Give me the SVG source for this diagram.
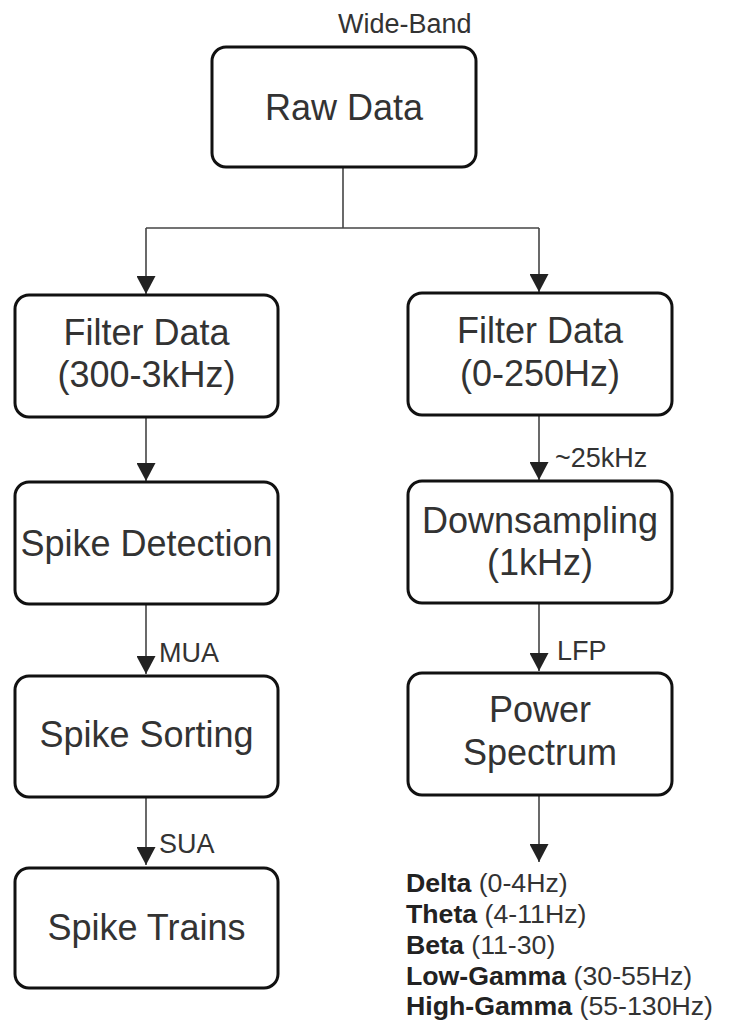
<svg xmlns="http://www.w3.org/2000/svg" width="730" height="1024" viewBox="0 0 730 1024">
  <style>
    .box { fill: #ffffff; stroke: #111111; stroke-width: 3; }
    .node { font-family: "Liberation Sans", Arial, sans-serif; font-size: 36px; fill: #333333; text-anchor: middle; }
    .lbl { font-family: "Liberation Sans", Arial, sans-serif; font-size: 27px; fill: #333333; }
    .band { font-family: "Liberation Sans", Arial, sans-serif; font-size: 26.7px; fill: #333333; }
    .band .b { font-weight: bold; fill: #222222; }
    .conn { fill: none; stroke: #444444; stroke-width: 1.6; }
  </style>
  <defs>
    <marker id="arrow" viewBox="0 0 18 19" refX="18" refY="9.5" markerWidth="18" markerHeight="19" orient="auto" markerUnits="userSpaceOnUse">
      <path d="M0,0 L18,9.5 L0,19 Z" fill="#222222"/>
    </marker>
  </defs>
  <rect width="730" height="1024" fill="#ffffff"/>

  <g id="connectors">
    <polyline class="conn" points="343,167 343,228"/>
    <polyline class="conn" points="146,228 539,228"/>
    <line class="conn" x1="146" y1="228" x2="146" y2="294" marker-end="url(#arrow)"/>
    <line class="conn" x1="539" y1="228" x2="539" y2="292" marker-end="url(#arrow)"/>
    <line class="conn" x1="146" y1="418" x2="146" y2="481" marker-end="url(#arrow)"/>
    <line class="conn" x1="539" y1="416" x2="539" y2="480" marker-end="url(#arrow)"/>
    <line class="conn" x1="146" y1="605" x2="146" y2="674" marker-end="url(#arrow)"/>
    <line class="conn" x1="539" y1="604" x2="539" y2="671" marker-end="url(#arrow)"/>
    <line class="conn" x1="146" y1="798" x2="146" y2="865" marker-end="url(#arrow)"/>
    <line class="conn" x1="539" y1="796" x2="539" y2="862" marker-end="url(#arrow)"/>
    <text class="lbl" x="338" y="33">Wide-Band</text>
    <text class="lbl" x="555" y="467">~25kHz</text>
    <text class="lbl" x="159" y="662">MUA</text>
    <text class="lbl" x="557" y="660">LFP</text>
    <text class="lbl" x="159" y="853">SUA</text>
  </g>

  <g id="raw-data">
    <rect class="box" x="212" y="47" width="264" height="120" rx="14"/>
    <text class="node" x="344" y="120">Raw Data</text>
  </g>

  <g id="filter-spike">
    <rect class="box" x="15" y="295" width="263" height="122" rx="14"/>
    <text class="node" x="146.5" y="345">Filter Data</text>
    <text class="node" x="146.5" y="387">(300-3kHz)</text>
  </g>

  <g id="filter-lfp">
    <rect class="box" x="408" y="293" width="264" height="122" rx="14"/>
    <text class="node" x="540" y="343">Filter Data</text>
    <text class="node" x="540" y="386">(0-250Hz)</text>
  </g>

  <g id="spike-detection">
    <rect class="box" x="15" y="482" width="263" height="122" rx="14"/>
    <text class="node" x="146.5" y="556">Spike Detection</text>
  </g>

  <g id="downsampling">
    <rect class="box" x="408" y="481" width="264" height="122" rx="14"/>
    <text class="node" x="540" y="533">Downsampling</text>
    <text class="node" x="540" y="575">(1kHz)</text>
  </g>

  <g id="spike-sorting">
    <rect class="box" x="15" y="676" width="263" height="121" rx="14"/>
    <text class="node" x="146.5" y="747">Spike Sorting</text>
  </g>

  <g id="power-spectrum">
    <rect class="box" x="408" y="673" width="264" height="122" rx="14"/>
    <text class="node" x="540" y="722">Power</text>
    <text class="node" x="540" y="765">Spectrum</text>
  </g>

  <g id="spike-trains">
    <rect class="box" x="15" y="868" width="263" height="120" rx="14"/>
    <text class="node" x="146.5" y="940">Spike Trains</text>
  </g>

  <g id="bands">
    <text class="band" x="406" y="892"><tspan class="b">Delta</tspan> (0-4Hz)</text>
    <text class="band" x="406" y="923"><tspan class="b">Theta</tspan> (4-11Hz)</text>
    <text class="band" x="406" y="954"><tspan class="b">Beta</tspan> (11-30)</text>
    <text class="band" x="406" y="985"><tspan class="b">Low-Gamma</tspan> (30-55Hz)</text>
    <text class="band" x="406" y="1015"><tspan class="b">High-Gamma</tspan> (55-130Hz)</text>
  </g>
</svg>
